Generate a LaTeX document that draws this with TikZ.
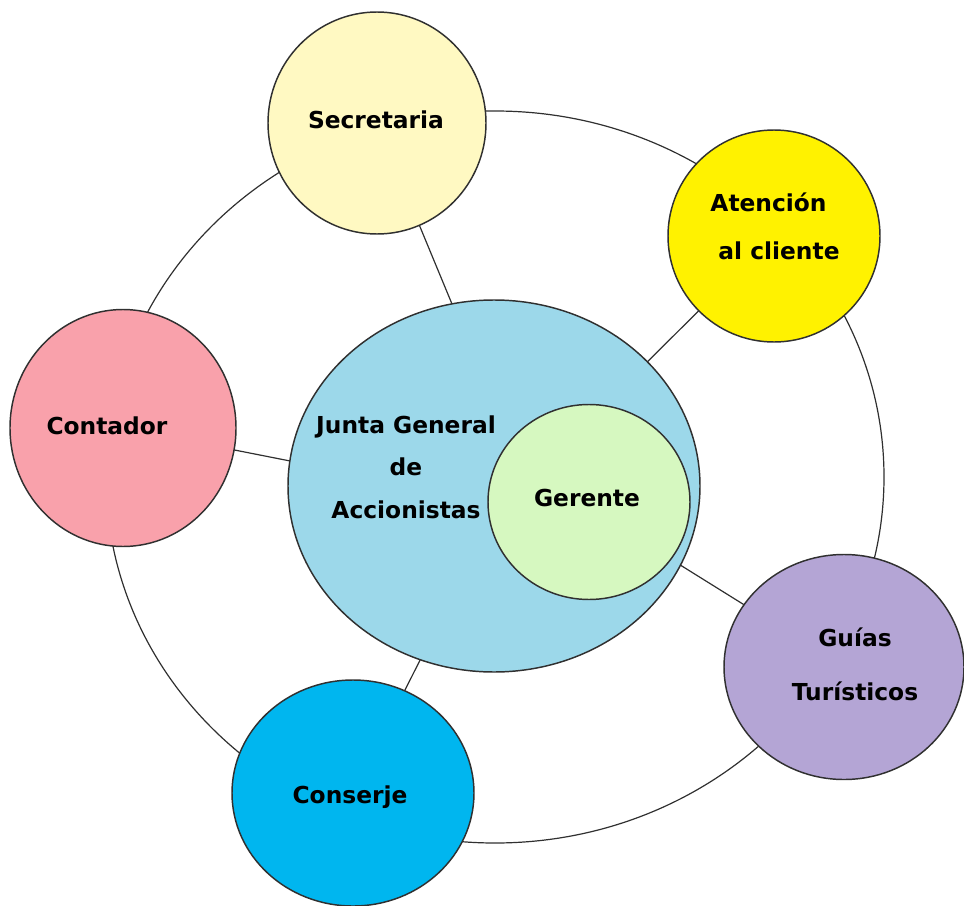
\documentclass[tikz,border=0pt]{standalone}
\usepackage{fontspec}
\setmainfont{DejaVu Sans}
\usetikzlibrary{shapes.geometric}
\definecolor{orgLine}{HTML}{303030}
\definecolor{orgSec}{HTML}{FFF9C2}
\definecolor{orgAten}{HTML}{FFF200}
\definecolor{orgCont}{HTML}{F9A1AB}
\definecolor{orgJunta}{HTML}{9CD8EA}
\definecolor{orgGer}{HTML}{D6F8C0}
\definecolor{orgGuias}{HTML}{B4A5D5}
\definecolor{orgCons}{HTML}{00B6EF}
\newlength{\pxu}
\setlength{\pxu}{0.75pt}
\tikzset{
  orgnode/.style={
    draw=orgLine, ellipse, line width=1.1pt, inner sep=0pt, outer sep=0pt
  },
  orgtext/.style={font=\fontsize{17.5}{32}\selectfont\bfseries, align=center, inner sep=0pt},
  ring/.style={draw=orgLine, ellipse, line width=0.9pt, inner sep=0pt, outer sep=0pt},
  spoke/.style={draw=orgLine, line width=0.9pt}
}

\begin{document}
\begin{tikzpicture}[x=0.75pt, y=-0.75pt]
  \useasboundingbox (0,0) rectangle (964,906);
  % outer ring
  \node[ring, minimum width=778\pxu, minimum height=732\pxu] (orbit) at (495,477) {};
  % areas
  \node[orgnode, fill=orgJunta, minimum width=412\pxu, minimum height=372\pxu] (junta) at (494,486) {};
  \node[orgnode, fill=orgGer, minimum width=202\pxu, minimum height=195\pxu] (ger) at (589,502) {};
  \node[orgnode, fill=orgSec, minimum width=218\pxu, minimum height=222\pxu] (sec) at (377,123) {};
  \node[orgnode, fill=orgAten, minimum width=212\pxu, minimum height=212\pxu] (aten) at (774,236) {};
  \node[orgnode, fill=orgCont, minimum width=226\pxu, minimum height=237\pxu] (cont) at (123,428) {};
  \node[orgnode, fill=orgGuias, minimum width=240\pxu, minimum height=225\pxu] (guias) at (844,667) {};
  \node[orgnode, fill=orgCons, minimum width=242\pxu, minimum height=226\pxu] (cons) at (353,793) {};
  % spokes
  \draw[spoke] (sec) -- (junta.103);
  \draw[spoke] (aten) -- (junta.39);
  \draw[spoke] (cont) -- (junta.173);
  \draw[spoke] (guias) -- (junta.337);
  \draw[spoke] (cons) -- (junta.247);
  % labels
  \node[orgtext] (junta-txt) at (406,467) {Junta General\\de\\Accionistas};
  \node[orgtext] (ger-txt) at (587,498) {Gerente};
  \node[orgtext] (sec-txt) at (376,120) {Secretaria};
  \node[orgtext, align=left, font=\fontsize{17.5}{36}\selectfont\bfseries] (aten-txt) at (775,226)
    {Atención\\\hspace*{6pt}al cliente};
  \node[orgtext] (cont-txt) at (107,426) {Contador};
  \node[orgtext, font=\fontsize{17.5}{40.5}\selectfont\bfseries] (guias-txt) at (855,664) {Guías\\Turísticos};
  \node[orgtext] (cons-txt) at (350,797) {Conserje};
\end{tikzpicture}
\end{document}
